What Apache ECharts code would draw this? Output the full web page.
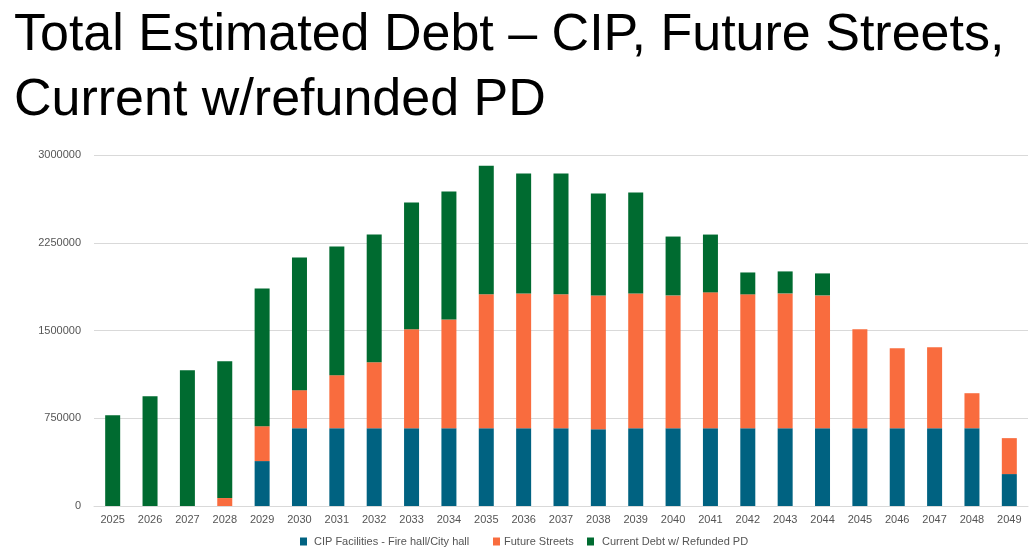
<!DOCTYPE html>
<html>
<head>
<meta charset="utf-8">
<style>html,body{margin:0;padding:0;background:#fff}#c{width:1035px;height:559px}</style>
<script src="https://cdn.jsdelivr.net/npm/echarts@6/dist/echarts.min.js"></script>
</head>
<body>
<div id="c"></div>
<script>
const years = ['2025','2026','2027','2028','2029','2030','2031','2032','2033','2034','2035','2036','2037','2038','2039','2040','2041','2042','2043','2044','2045','2046','2047','2048','2049'];
const cipFacilities = [0,0,0,0,384000,665000,665000,665000,665000,665000,665000,665000,665000,657000,665000,665000,665000,665000,665000,665000,665000,665000,665000,665000,273000];
const futureStreets = [0,0,0,68000,298000,325000,453000,563000,845000,930000,1144000,1152000,1144000,1143000,1152000,1135000,1161000,1144000,1152000,1135000,845000,683000,691000,299000,307000];
const currentDebt = [776000,938000,1160000,1169000,1178000,1134000,1100000,1092000,1083000,1092000,1100000,1024000,1032000,870000,862000,503000,494000,187000,188000,188000,0,0,0,0,0];
const yTicks = [0,750000,1500000,2250000,3000000];
const seriesNames = ['CIP Facilities - Fire hall/City hall','Future Streets','Current Debt w/ Refunded PD'];

const chart = echarts.init(document.getElementById('c'));
const font = 'Liberation Sans, Arial, Helvetica, sans-serif';
const mk = (name, data, color) => ({
  name, type: 'bar', stack: 'total', data, barWidth: 15,
  itemStyle: { color }, emphasis: { disabled: true }
});
const legendLeft = [300, 493, 587];
const legendPad = [2, -1, 3];
chart.setOption({
  animation: false,
  textStyle: { fontFamily: font },
  title: {
    text: 'Total Estimated Debt \u2013 CIP, Future Streets,\nCurrent w/refunded PD',
    left: 9, top: -2,
    textStyle: { fontFamily: font, fontSize: 52, fontWeight: 'normal', color: '#000', lineHeight: 65 }
  },
  grid: { left: 94, right: 7, top: 155, bottom: 53, containLabel: false },
  legend: seriesNames.map((n, i) => ({
    data: [n], bottom: 12, left: legendLeft[i], padding: 0,
    itemWidth: 7, itemHeight: 8, icon: 'rect',
    textStyle: { fontSize: 11, color: '#555', fontFamily: font, padding: [0,0,0,legendPad[i]] }
  })),
  xAxis: {
    type: 'category', data: years,
    axisLine: { lineStyle: { color: '#d9d9d9' } },
    axisTick: { show: false },
    axisLabel: { color: '#555', fontSize: 11, margin: 8 }
  },
  yAxis: {
    type: 'value', min: yTicks[0], max: yTicks[yTicks.length-1], interval: 750000,
    axisLine: { show: false }, axisTick: { show: false },
    splitLine: { lineStyle: { color: '#d9d9d9' } },
    axisLabel: { color: '#555', fontSize: 11, margin: 13, formatter: v => String(v) }
  },
  series: [
    mk(seriesNames[0], cipFacilities, '#006281'),
    mk(seriesNames[1], futureStreets, '#F96C3E'),
    mk(seriesNames[2], currentDebt, '#006B30')
  ]
});
</script>
</body>
</html>
